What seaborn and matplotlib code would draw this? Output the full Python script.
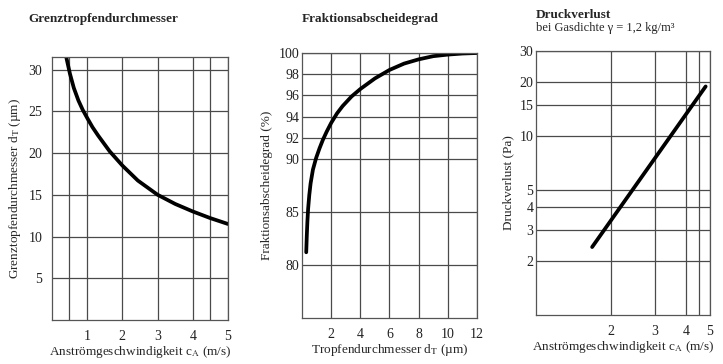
import matplotlib
matplotlib.use("Agg")
import matplotlib.pyplot as plt
from matplotlib.ticker import NullFormatter
import seaborn as sns

# Grenztropfendurchmesser vs. Anstroemgeschwindigkeit
speed_a = [0.41, 0.51, 0.62, 0.75, 0.87, 1.0, 1.15, 1.31, 1.64, 2.0, 2.44, 3.0, 3.5, 4.0, 4.5, 5.0]
drop_a = [31.4, 29.5, 27.8, 26.3, 25.2, 24.2, 23.1, 22.1, 20.2, 18.5, 16.7, 15.0, 13.9, 13.0, 12.2, 11.5]

# Fraktionsabscheidegrad vs. Tropfendurchmesser
drop_b = [0.29, 0.33, 0.37, 0.42, 0.5, 0.59, 0.75, 0.97, 1.2, 1.43, 1.7, 2.0, 2.4, 2.79,
          3.4, 4.0, 5.0, 6.0, 7.0, 8.0, 9.0, 10.0, 11.0, 12.0]
eff_b = [81.2, 82.8, 84.1, 85.3, 86.6, 87.7, 89.0, 90.1, 91.0, 91.8, 92.6, 93.4, 94.3, 95.0,
         95.9, 96.6, 97.6, 98.4, 99.0, 99.4, 99.7, 99.85, 99.95, 100.0]

# Druckverlust vs. Anstroemgeschwindigkeit (log-log)
speed_c = [1.68, 4.8]
dp_c = [2.4, 19.0]

sns.set_theme(style="white")
plt.rcParams["font.family"] = ["Liberation Serif", "DejaVu Serif"]
plt.rcParams["mathtext.fontset"] = "stix"

fig = plt.figure(figsize=(7.23, 3.64), dpi=100)
ax1 = fig.add_axes([0.0719, 0.1209, 0.2434, 0.7225])
ax2 = fig.add_axes([0.4177, 0.1264, 0.2420, 0.7280])
ax3 = fig.add_axes([0.7414, 0.1346, 0.2407, 0.7253])

grid_kw = dict(color="#4a4a4a", linewidth=0.9)
for ax in (ax1, ax2, ax3):
    for s in ax.spines.values():
        s.set_color("#555555")
        s.set_linewidth(0.9)
    ax.tick_params(length=0, labelsize=10, colors="#222222")

# panel 1
sns.lineplot(x=speed_a, y=drop_a, ax=ax1, color="black", lw=2.7)
ax1.set_xlim(0, 5)
ax1.set_ylim(0, 31.5)
ax1.set_xticks([1, 2, 3, 4, 5])
ax1.set_xticks([0.47, 4.5], minor=True)
ax1.set_yticks([5, 10, 15, 20, 25, 30])
ax1.grid(which="both", **grid_kw)
ax1.tick_params(axis="y", pad=7)
ax1.tick_params(axis="x", pad=7)
ax1.set_xlabel("Anströmgeschwindigkeit c$_\\mathrm{A}$ (m/s)", fontsize=9.5, labelpad=1)
ax1.set_ylabel("Grenztopfendurchmesser d$_\\mathrm{T}$ (µm)", fontsize=9.5, labelpad=4)

# panel 2
sns.lineplot(x=drop_b, y=eff_b, ax=ax2, color="black", lw=2.7)
ax2.set_xlim(0, 12)
ax2.set_ylim(75, 100)
ax2.set_xticks([2, 4, 6, 8, 10, 12])
ax2.set_yticks([80, 85, 90, 92, 94, 96, 98, 100])
ax2.grid(**grid_kw)
ax2.tick_params(axis="y", pad=2)
ax2.tick_params(axis="x", pad=7)
ax2.set_xlabel("Tropfendurchmesser d$_\\mathrm{T}$ (µm)", fontsize=9.5, labelpad=1)
ax2.set_ylabel("Fraktionsabscheidegrad (%)", fontsize=9.5, labelpad=4)

# panel 3
sns.lineplot(x=speed_c, y=dp_c, ax=ax3, color="black", lw=2.7)
ax3.set_xscale("log")
ax3.set_yscale("log")
ax3.set_xlim(1, 5)
ax3.set_ylim(1, 30)
ax3.set_xticks([2, 3, 4, 5], labels=["2", "3", "4", "5"])
ax3.set_xticks([4.5], minor=True)
ax3.set_yticks([2, 3, 4, 5, 10, 15, 20, 30], labels=["2", "3", "4", "5", "10", "15", "20", "30"])
ax3.set_yticks([], minor=True)
ax3.xaxis.set_minor_formatter(NullFormatter())
ax3.grid(which="both", **grid_kw)
ax3.tick_params(which="both", length=0)
ax3.tick_params(axis="y", pad=2)
ax3.tick_params(axis="x", pad=7)
ax3.set_xlabel("Anströmgeschwindigkeit c$_\\mathrm{A}$ (m/s)", fontsize=9.5, labelpad=1)
ax3.set_ylabel("Druckverlust (Pa)", fontsize=9.5, labelpad=4)

fig.text(0.0387, 0.948, "Grenztropfendurchmesser", fontsize=9.5, fontweight="bold", va="center")
fig.text(0.4177, 0.948, "Fraktionsabscheidegrad", fontsize=9.5, fontweight="bold", va="center")
fig.text(0.7414, 0.959, "Druckverlust", fontsize=9.5, fontweight="bold", va="center")
fig.text(0.7414, 0.922, "bei Gasdichte γ = 1,2 kg/m³", fontsize=9, va="center")

fig.savefig("out.png", dpi=100)
